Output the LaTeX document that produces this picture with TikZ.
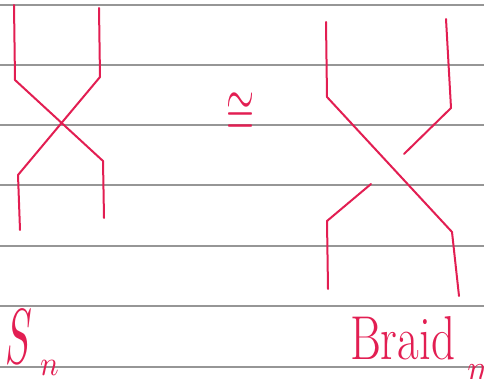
\documentclass[tikz,border=0pt]{standalone}
\usepackage{tikz}
\usetikzlibrary{calc}
\definecolor{ink}{RGB}{226,30,82}
\definecolor{ruling}{RGB}{150,150,150}
\tikzset{
    strand/.style={ink, line width=2pt, line cap=round, line join=round},
    ruleline/.style={ruling, line width=1.1pt},
    handlabel/.style={ink, inner sep=0pt}
}

\begin{document}
\begin{tikzpicture}[x=1pt, y=-1pt]
    \useasboundingbox (0,0) rectangle (484,379);
    % ruled paper
    \foreach \y in {5, 65, 125, 185, 246, 306, 367} {
        \draw[ruleline] (0,\y) -- (484,\y);
    }
    % permutation: two strands that simply cross
    \coordinate (a1) at (14,5);
    \coordinate (a2) at (15,80);
    \coordinate (a3) at (103,161);
    \coordinate (a4) at (104,218);
    \coordinate (b1) at (99,8);
    \coordinate (b2) at (100,77);
    \coordinate (b3) at (18,175);
    \coordinate (b4) at (20,230);
    \draw[strand] (a1) -- (a2) -- (a3) -- (a4);
    \draw[strand] (b1) -- (b2) -- (b3) -- (b4);
    % isomorphism sign
    \node[handlabel, xscale=3.6, yscale=6.2] (iso) at (240,114) {$\cong$};
    % braid: over strand and broken under strand
    \coordinate (c1) at (326,22);
    \coordinate (c2) at (327,97);
    \coordinate (c3) at (452,232);
    \coordinate (c4) at (459,296);
    \coordinate (d1) at (446,19);
    \coordinate (d2) at (451,108);
    \coordinate (d3) at (404,154);
    \coordinate (e1) at (371,184);
    \coordinate (e2) at (327,221);
    \coordinate (e3) at (328,289);
    \draw[strand] (c1) -- (c2) -- (c3) -- (c4);
    \draw[strand] (d1) -- (d2) -- (d3);
    \draw[strand] (e1) -- (e2) -- (e3);
    % labels
    \node[handlabel, anchor=base west] (symlabel) at (5,363)
        {\scalebox{4}[7.8]{$S$}\hspace{8pt}\raisebox{-12pt}{\scalebox{3.1}[3.5]{\normalsize$n$}}};
    \node[handlabel, anchor=base west, font=\fontsize{62}{62}\selectfont, xscale=0.76] (braidlabel) at (350,359)
        {Braid\hspace{16pt}\raisebox{-22pt}{\scalebox{4.4}[3.9]{\normalsize$n$}}};
\end{tikzpicture}
\end{document}
